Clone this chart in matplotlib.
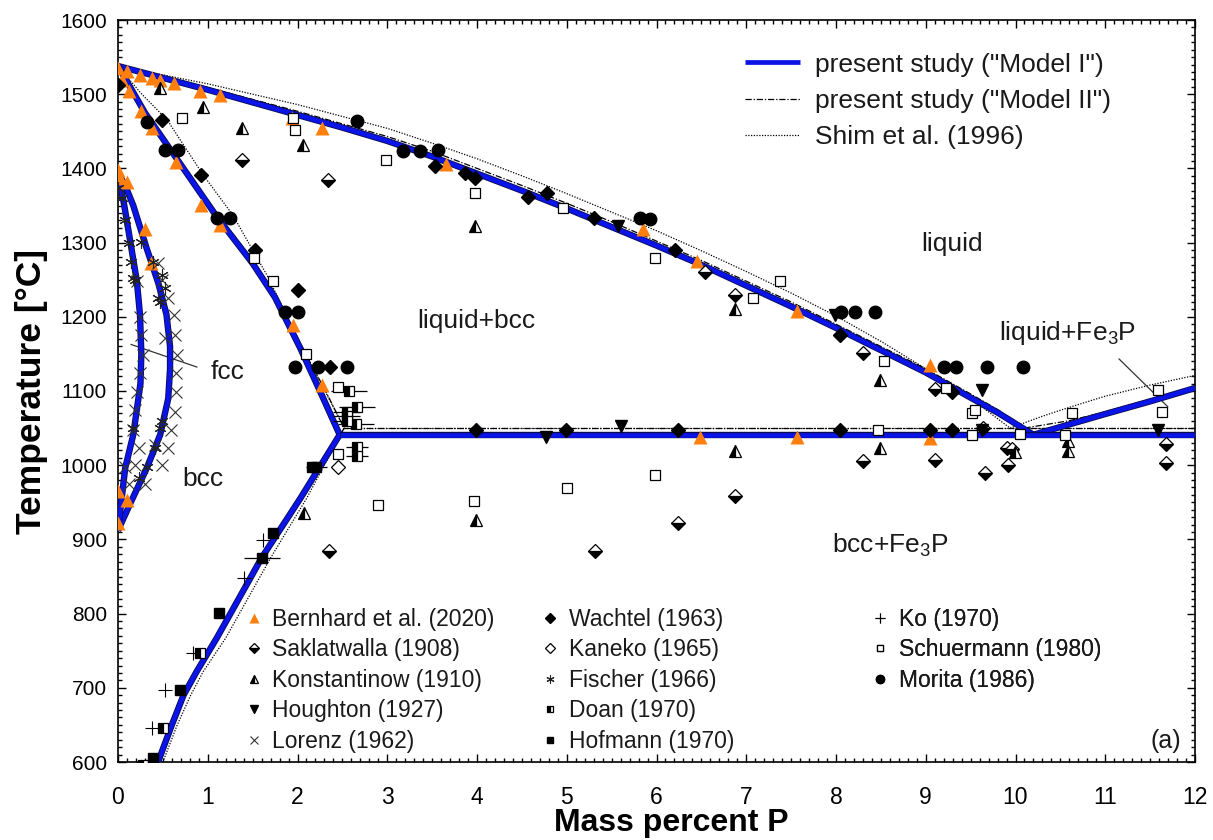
import matplotlib
matplotlib.use("Agg")
import matplotlib.pyplot as plt
from matplotlib import font_manager as fm
from matplotlib.ticker import MultipleLocator
import matplotlib.patheffects as pe

names = {f.name for f in fm.fontManager.ttflist}
NARROW = 'Liberation Sans Narrow' if 'Liberation Sans Narrow' in names else 'Liberation Sans'
plt.rcParams['font.family'] = ['Liberation Sans', 'DejaVu Sans']
plt.rcParams['mathtext.fontset'] = 'custom'
plt.rcParams['mathtext.rm'] = 'Liberation Sans'
plt.rcParams['mathtext.it'] = 'Liberation Sans'

# ---------------- calculated phase boundaries ----------------
# Model I (present study)
m1_liq_x = [0, 0.5, 1, 1.5, 2, 2.5, 3, 3.5, 4, 4.5, 5, 5.5, 6, 6.5, 7, 7.5, 8, 8.5, 9, 9.5, 9.8, 10.2]
m1_liq_T = [1538, 1522, 1506, 1489, 1472, 1455, 1437, 1416, 1393, 1370, 1346, 1321, 1296, 1270, 1242, 1214, 1185, 1155, 1125, 1091, 1071, 1041]
m1_fe3p_x = [10.2, 10.6, 11.0, 11.5, 12.0]
m1_fe3p_T = [1041, 1055, 1069, 1086, 1104]
m1_sol_x = [0, 0.3, 0.66, 1.1, 1.5, 1.75, 2.03, 2.25, 2.47]
m1_sol_T = [1538, 1475, 1412, 1335, 1272, 1226, 1158, 1100, 1041]
m1_solv_x = [2.47, 2.03, 1.6, 1.1, 0.877, 0.73, 0.6, 0.446]
m1_solv_T = [1041, 955, 875, 767, 722, 690, 650, 600]
m1_eut_x = [2.47, 12.0]
m1_eut_T = [1041, 1041]
m1_gout_x = [0, 0.08, 0.17, 0.32, 0.45, 0.54, 0.58, 0.58, 0.56, 0.47, 0.32, 0.15, 0]
m1_gout_T = [1394, 1377, 1350, 1292, 1245, 1203, 1160, 1130, 1090, 1041, 996, 952, 912]
m1_gin_x = [0, 0.07, 0.15, 0.21, 0.245, 0.26, 0.25, 0.21, 0.17, 0.08, 0]
m1_gin_T = [1394, 1350, 1292, 1248, 1203, 1150, 1110, 1075, 1041, 996, 912]

# Model II (present study)
m2_liq_x = [0, 0.5, 1, 1.5, 2, 2.5, 3, 3.5, 4, 4.5, 5, 5.5, 6, 6.5, 7, 7.5, 8, 8.5, 9, 9.5, 9.8, 10.1]
m2_liq_T = [1538, 1524, 1509, 1493, 1477, 1460, 1443, 1423, 1400, 1377, 1353, 1328, 1302, 1276, 1248, 1220, 1190, 1160, 1130, 1096, 1075, 1050]
m2_fe3p_x = [10.1, 10.6, 11.0, 11.5, 12.0]
m2_fe3p_T = [1050, 1060, 1072, 1089, 1106]
m2_sol_x = [0, 0.3, 0.66, 1.1, 1.5, 1.75, 2.03, 2.3, 2.52]
m2_sol_T = [1538, 1478, 1416, 1340, 1277, 1231, 1163, 1103, 1050]
m2_solv_x = [2.52, 2.05, 1.62, 1.12, 0.89, 0.745, 0.61, 0.455]
m2_solv_T = [1050, 955, 875, 767, 722, 690, 650, 600]
m2_eut_x = [2.52, 12.0]
m2_eut_T = [1050, 1050]

# Shim et al. (1996)
sh_liq_x = [0, 0.5, 1, 1.5, 2, 2.5, 3, 3.5, 4, 4.5, 5, 5.5, 6, 6.5, 7, 7.5, 8, 8.5, 9, 9.5, 9.94]
sh_liq_T = [1538, 1526, 1514, 1500, 1486, 1470, 1454, 1434, 1413, 1390, 1366, 1341, 1316, 1289, 1261, 1232, 1201, 1167, 1130, 1090, 1050]
sh_fe3p_x = [9.94, 10.3, 10.6, 11.0, 11.5, 12.0]
sh_fe3p_T = [1050, 1066, 1078, 1093, 1108, 1121]
sh_sol_x = [0, 0.25, 0.55, 0.95, 1.28, 1.66, 2.05, 2.52]
sh_sol_T = [1538, 1502, 1465, 1391, 1337, 1256, 1160, 1050]
sh_solv_x = [2.52, 2.1, 1.7, 1.2, 0.95, 0.81, 0.66, 0.5]
sh_solv_T = [1050, 955, 875, 767, 722, 690, 650, 600]
sh_eut_x = [2.52, 12.0]
sh_eut_T = [1050, 1050]

# ---------------- experimental data ----------------
bernhard_x = [0.0, 0.1, 0.25, 0.38, 0.47, 0.62, 0.91, 1.14, 1.94, 2.27, 3.66, 5.85, 6.45, 7.56, 9.05,
              0.04, 0.12, 0.26, 0.38, 0.65, 0.93, 1.14, 1.95, 2.27,
              0.0, 0.02, 0.1, 0.3, 0.37, 0.0, 0.1, 0.0,
              6.48, 7.56, 9.05]
bernhard_T = [1535, 1531, 1526, 1522, 1519, 1515, 1504, 1499, 1468, 1454, 1406, 1319, 1275, 1208, 1135,
              1519, 1504, 1477, 1454, 1409, 1351, 1324, 1189, 1108,
              1398, 1387, 1382, 1319, 1272, 965, 953, 922,
              1038, 1038, 1036]
saklat_x = [1.38, 2.34, 6.54, 6.87, 8.3, 9.1, 9.64, 8.3, 9.1, 9.66, 9.9, 9.96, 9.92, 11.68, 11.68, 6.87, 6.24, 5.31, 2.35]
saklat_T = [1411, 1384, 1261, 1230, 1151, 1103, 1050, 1006, 1007, 990, 1023, 1022, 1000, 1028, 1003, 958, 922, 885, 885]
konst_x = [0.47, 0.95, 1.38, 2.06, 3.98, 6.87, 8.49, 6.87, 8.49, 9.99, 10.59, 10.59, 3.99, 2.07]
konst_T = [1508, 1483, 1454, 1432, 1322, 1210, 1115, 1019, 1023, 1018, 1033, 1019, 926, 935]
hought_x = [5.57, 7.99, 9.63, 9.63, 11.59, 5.6, 4.77]
hought_T = [1323, 1203, 1101, 1047, 1048, 1053, 1038]
lorenz_x = [0.45, 0.49, 0.56, 0.62, 0.64, 0.66, 0.65, 0.65, 0.64, 0.59, 0.56, 0.49,
            0.21, 0.24, 0.26, 0.28, 0.25, 0.21, 0.19, 0.17, 0.23, 0.19, 0.08,
            0.52, 0.41, 0.3, 0.12]
lorenz_T = [1272, 1250, 1225, 1203, 1176, 1149, 1124, 1099, 1072, 1048, 1023, 1000,
            1248, 1200, 1176, 1149, 1124, 1099, 1075, 1048, 1023, 1000, 998,
            1171, 1027, 975, 975]
wachtel_x = [0.0, 0.49, 0.93, 1.53, 2.01, 2.36, 3.53, 3.87, 3.98, 4.57, 4.78, 5.3, 6.21, 8.04, 9.29,
             3.99, 4.99, 6.24, 8.04, 9.05, 9.29]
wachtel_T = [1512, 1465, 1391, 1290, 1236, 1133, 1403, 1394, 1387, 1362, 1367, 1333, 1290, 1176, 1099,
             1048, 1048, 1048, 1048, 1048, 1048]
kaneko_x = [2.45]
kaneko_T = [998]
fischer_x = [0.0, 0.04, 0.08, 0.12, 0.15, 0.17, 0.26, 0.39, 0.49, 0.52, 0.19, 0.45, 0.47,
             0.49, 0.47, 0.41, 0.32, 0.23, 0.17]
fischer_T = [1373, 1360, 1330, 1300, 1274, 1252, 1301, 1274, 1256, 1239, 1250, 1225, 1220,
             1059, 1050, 1023, 998, 983, 1050]
doan_x = [2.57, 2.66, 2.55, 2.55, 2.55, 2.65, 2.66, 2.66, 0.91, 0.5, 0.28]
doan_T = [1100, 1079, 1072, 1066, 1059, 1055, 1025, 1012, 747, 646, 596]
doan_err = [0.2, 0.2, 0.15, 0.15, 0.15, 0.2, 0.12, 0.12, 0, 0, 0]
hofmann_x = [2.16, 2.21, 1.73, 1.6, 1.12, 0.69, 0.39]
hofmann_T = [997, 997, 908, 875, 801, 697, 605]
hofmann_err = [0, 0.12, 0, 0.2, 0, 0, 0]
ko_x = [1.62, 1.4, 0.84, 0.52, 0.38]
ko_T = [899, 848, 747, 697, 646]
schuer_x = [0.71, 1.95, 1.97, 2.99, 3.98, 4.96, 5.98, 7.08, 7.38, 8.53, 9.23, 9.51, 9.55, 9.51, 10.05,
            10.63, 10.55, 11.59, 11.63, 8.47, 1.51, 1.73, 2.1, 2.45, 2.45, 2.9, 3.97, 5.0, 5.98]
schuer_T = [1468, 1468, 1452, 1411, 1367, 1346, 1279, 1225, 1248, 1141, 1104, 1070, 1075, 1041, 1042,
            1070, 1041, 1101, 1072, 1048, 1279, 1248, 1150, 1105, 1015, 947, 952, 969, 987]
morita_x = [0.32, 0.52, 0.67, 1.1, 1.25, 2.66, 3.18, 3.36, 3.57, 5.82, 5.93, 8.06, 8.21, 8.43,
            9.2, 9.34, 9.68, 10.08, 1.86, 2.01, 1.97, 2.23, 2.55]
morita_T = [1463, 1425, 1425, 1333, 1333, 1464, 1423, 1424, 1425, 1333, 1332, 1206, 1206, 1206,
            1132, 1132, 1132, 1132, 1207, 1207, 1133, 1133, 1133]

# ---------------- figure ----------------
fig = plt.figure(figsize=(12.13, 8.4), dpi=100)
ax = fig.add_axes([118/1213, 1-762/840, (1195-118)/1213, (762-20)/840])

BLUE = '#0a14e6'
STROKE = [pe.Stroke(linewidth=4.6, foreground='#0a0a50'), pe.Normal()]
blue_kw = dict(color=BLUE, lw=3.4, solid_capstyle='butt', zorder=4, path_effects=STROKE)
m2_kw = dict(color='black', lw=0.9, linestyle=(0, (5, 1.5, 1, 1.5)), zorder=3)
sh_kw = dict(color='black', lw=0.9, linestyle=(0, (1, 1.2)), zorder=3)

# data markers
mk = dict(linestyle='none', zorder=5)
h_bern, = ax.plot(bernhard_x, bernhard_T, marker='^', ms=10, mfc='#ff7f0e', mec='none', **mk,
                  label='Bernhard et al. (2020)')
h_sak, = ax.plot(saklat_x, saklat_T, marker='D', ms=7.5, fillstyle='bottom', mfc='black', mfcalt='white',
                 mec='black', mew=0.9, **mk, label='Saklatwalla (1908)')
h_kon, = ax.plot(konst_x, konst_T, marker='^', ms=9, fillstyle='left', mfc='black', mfcalt='white',
                 mec='black', mew=0.9, **mk, label='Konstantinow (1910)')
h_hou, = ax.plot(hought_x, hought_T, marker='v', ms=9, mfc='black', mec='black', **mk,
                 label='Houghton (1927)')
h_lor, = ax.plot(lorenz_x, lorenz_T, marker='x', ms=8, mec='#333333', mew=0.8, **mk,
                 label='Lorenz (1962)')
h_wac, = ax.plot(wachtel_x, wachtel_T, marker='D', ms=7.5, mfc='black', mec='black', **mk,
                 label='Wachtel (1963)')
h_kan, = ax.plot(kaneko_x, kaneko_T, marker='D', ms=7.5, mfc='white', mec='black', mew=0.9, **mk,
                 label='Kaneko (1965)')
h_fis, = ax.plot(fischer_x, fischer_T, marker=(6, 2, 0), ms=9, mec='#222222', mew=0.8, **mk,
                 label='Fischer (1966)')
ax.errorbar(doan_x, doan_T, xerr=doan_err, fmt='none', ecolor='black', elinewidth=0.9, capsize=0, zorder=5)
h_doa, = ax.plot(doan_x, doan_T, marker='s', ms=7, fillstyle='left', mfc='black', mfcalt='white',
                 mec='black', mew=0.9, **mk, label='Doan (1970)')
ax.errorbar(hofmann_x, hofmann_T, xerr=hofmann_err, fmt='none', ecolor='black', elinewidth=0.9, capsize=0, zorder=5)
h_hof, = ax.plot(hofmann_x, hofmann_T, marker='s', ms=6.5, mfc='black', mec='black', **mk,
                 label='Hofmann (1970)')
h_ko, = ax.plot(ko_x, ko_T, marker='+', ms=10, mec='black', mew=0.8, **mk, label='Ko (1970)')
h_sch, = ax.plot(schuer_x, schuer_T, marker='s', ms=7, mfc='white', mec='black', mew=0.9, **mk,
                 label='Schuermann (1980)')
h_mor, = ax.plot(morita_x, morita_T, marker='o', ms=9, mfc='black', mec='black', **mk,
                 label='Morita (1986)')

# calculated lines
for xs, ts in [(sh_liq_x, sh_liq_T), (sh_fe3p_x, sh_fe3p_T), (sh_sol_x, sh_sol_T),
               (sh_solv_x, sh_solv_T), (sh_eut_x, sh_eut_T)]:
    l_sh, = ax.plot(xs, ts, **sh_kw)
for xs, ts in [(m2_liq_x, m2_liq_T), (m2_fe3p_x, m2_fe3p_T), (m2_sol_x, m2_sol_T),
               (m2_solv_x, m2_solv_T), (m2_eut_x, m2_eut_T)]:
    l_m2, = ax.plot(xs, ts, **m2_kw)
for xs, ts in [(m1_liq_x, m1_liq_T), (m1_fe3p_x, m1_fe3p_T), (m1_sol_x, m1_sol_T),
               (m1_solv_x, m1_solv_T), (m1_eut_x, m1_eut_T), (m1_gout_x, m1_gout_T),
               (m1_gin_x, m1_gin_T)]:
    l_m1, = ax.plot(xs, ts, **blue_kw)

# axes
ax.set_xlim(0, 12)
ax.set_ylim(600, 1600)
ax.xaxis.set_major_locator(MultipleLocator(1))
ax.xaxis.set_minor_locator(MultipleLocator(0.1))
ax.yaxis.set_major_locator(MultipleLocator(100))
ax.yaxis.set_minor_locator(MultipleLocator(10))
ax.tick_params(which='both', direction='in', top=True, right=True, width=1.0)
ax.tick_params(which='major', length=6)
ax.tick_params(which='minor', length=3)
ax.tick_params(axis='x', pad=17)
ax.tick_params(axis='y', pad=8, labelsize=15)
for lab in ax.get_xticklabels():
    lab.set_fontfamily(NARROW)
    lab.set_fontsize(16.5)
for sp in ax.spines.values():
    sp.set_linewidth(1.2)
ax.set_xlabel('Mass percent P', fontsize=23, fontweight='bold', va='baseline')
ax.xaxis.set_label_coords(0.514, (762 - 831) / 742)
ax.set_ylabel('Temperature [°C]', fontsize=25.5, fontweight='bold', labelpad=9)

# region labels
tc = '#1a1a1a'
ax.text(9.29, 1298, 'liquid', fontsize=19, ha='center', va='center', color=tc)
ax.text(3.99, 1195, 'liquid+bcc', fontsize=19, ha='center', va='center', color=tc)
ax.text(10.58, 1178, 'liquid+Fe$_{\\mathrm{3}}$P', fontsize=19, ha='center', va='center', color=tc)
ax.text(1.03, 1126, 'fcc', fontsize=19, ha='left', va='center', color=tc)
ax.text(0.95, 981, 'bcc', fontsize=19, ha='center', va='center', color=tc)
ax.text(8.6, 892, 'bcc+Fe$_{\\mathrm{3}}$P', fontsize=19, ha='center', va='center', color=tc)
ax.text(11.67, 628, '(a)', fontsize=18, ha='center', va='center', color=tc)
ax.annotate('', xy=(0.115, 1164), xytext=(0.91, 1131),
            arrowprops=dict(arrowstyle='-', color='#333333', lw=0.9))
ax.annotate('', xy=(11.13, 1146), xytext=(11.72, 1076),
            arrowprops=dict(arrowstyle='-', color='#333333', lw=0.9))

# legends
l_m1.set_path_effects([])
leg1 = ax.legend([l_m1, l_m2, l_sh],
                 ['present study ("Model I")', 'present study ("Model II")', 'Shim et al. (1996)'],
                 loc='upper left', bbox_to_anchor=(0.582, 0.956), frameon=False, fontsize=19,
                 handlelength=2.1, handletextpad=0.55, labelspacing=0.47, borderpad=0, borderaxespad=0)
for t in leg1.get_texts():
    t.set_color(tc)
ax.add_artist(leg1)
l_m1.set_path_effects(STROKE)

cols = [([h_bern, h_sak, h_kon, h_hou, h_lor], 0.1179),
        ([h_wac, h_kan, h_fis, h_doa, h_hof], 0.3928),
        ([h_ko, h_sch, h_mor], 0.6992)]
for hs, xpos in cols:
    lg = ax.legend(hs, [h.get_label() for h in hs], loc='upper left', bbox_to_anchor=(xpos, 0.208),
                   frameon=False, fontsize=16.5, markerscale=0.65, handlelength=0.8,
                   handletextpad=0.4, labelspacing=0.33, borderpad=0, borderaxespad=0)
    for t in lg.get_texts():
        t.set_color(tc)
    ax.add_artist(lg)

fig.savefig('out.png', dpi=100)
